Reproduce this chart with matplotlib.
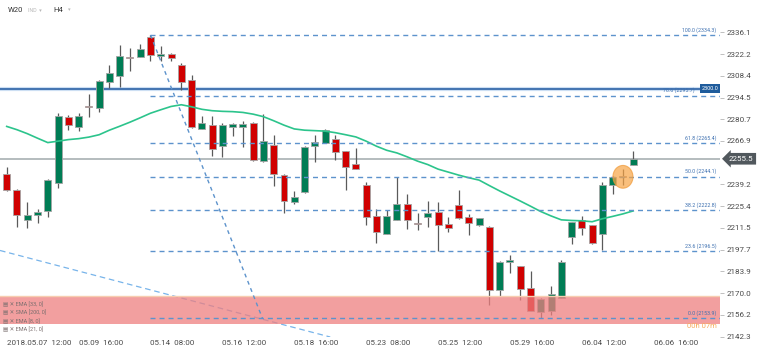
import matplotlib
matplotlib.use("Agg")
from matplotlib import pyplot as plt
from matplotlib.patches import Ellipse
from matplotlib.transforms import blended_transform_factory

plt.rcParams['font.family'] = ['Roboto', 'DejaVu Sans']

# ===== candle data (H4) =====
opens = [2246.1, 2235.3, 2216.8, 2220.0, 2222.1, 2239.9, 2281.8, 2275.9, 2289.3, 2287.8,
         2304.7, 2307.9, 2320.2, 2320.6, 2332.9, 2321.0, 2321.9, 2315.3, 2305.8, 2274.6,
         2277.2, 2263.8, 2275.7, 2275.7, 2278.3, 2253.9, 2264.0, 2245.4, 2227.8, 2234.4,
         2263.8, 2265.6, 2268.3, 2260.2, 2252.2, 2239.1, 2218.9, 2207.8, 2216.8, 2227.0,
         2214.9, 2218.5, 2221.9, 2214.1, 2225.9, 2218.1, 2213.2, 2212.2, 2171.7, 2189.5,
         2187.0, 2173.2, 2158.0, 2158.6, 2167.1, 2205.6, 2216.2, 2213.2, 2207.8, 2238.6,
         2243.9, 2251.8]
highs = [2250.1, 2236.5, 2227.8, 2223.2, 2242.9, 2284.8, 2283.1, 2284.6, 2296.7, 2305.8,
         2314.9, 2328.0, 2325.9, 2328.5, 2334.3, 2327.6, 2322.7, 2316.4, 2309.0, 2282.9,
         2282.9, 2278.0, 2278.2, 2279.7, 2279.0, 2284.0, 2270.8, 2245.8, 2234.8, 2263.4,
         2270.8, 2274.3, 2270.4, 2260.5, 2262.4, 2240.8, 2223.8, 2222.6, 2243.7, 2233.2,
         2220.8, 2228.9, 2227.8, 2218.5, 2235.9, 2220.6, 2217.8, 2213.0, 2190.3, 2194.2,
         2187.3, 2183.8, 2166.8, 2174.5, 2191.0, 2215.4, 2218.9, 2213.5, 2240.8, 2244.3,
         2249.0, 2260.7]
lows = [2234.8, 2211.9, 2211.1, 2214.3, 2218.3, 2237.2, 2273.8, 2273.4, 2282.1, 2285.0,
        2300.5, 2301.5, 2311.5, 2320.4, 2318.0, 2317.8, 2317.8, 2299.4, 2275.0, 2274.3,
        2257.0, 2256.7, 2269.8, 2263.0, 2254.3, 2253.6, 2238.4, 2221.1, 2226.4, 2234.0,
        2253.2, 2265.3, 2255.0, 2235.9, 2248.7, 2213.2, 2202.0, 2207.5, 2216.5, 2210.9,
        2210.3, 2211.9, 2196.7, 2209.0, 2217.2, 2206.9, 2212.9, 2162.2, 2168.1, 2183.0,
        2165.4, 2158.3, 2153.9, 2155.8, 2166.8, 2201.0, 2206.7, 2201.3, 2197.1, 2233.2,
        2239.1, 2251.6]
closes = [2235.9, 2219.6, 2220.0, 2221.3, 2242.2, 2282.9, 2277.2, 2282.9, 2288.6, 2305.1,
          2310.0, 2321.0, 2319.6, 2325.3, 2321.7, 2322.1, 2319.8, 2304.7, 2275.5, 2278.3,
          2261.9, 2277.2, 2277.8, 2277.8, 2254.5, 2267.0, 2245.9, 2228.9, 2231.3, 2263.0,
          2266.2, 2274.0, 2259.8, 2250.1, 2249.0, 2218.5, 2208.8, 2218.9, 2227.0, 2216.8,
          2213.8, 2221.1, 2213.5, 2211.6, 2217.5, 2214.5, 2217.5, 2171.7, 2190.0, 2191.0,
          2172.8, 2158.6, 2166.5, 2169.2, 2190.0, 2215.1, 2211.6, 2201.6, 2239.1, 2244.0,
          2243.6, 2255.5]

# EMA (21) read at each candle
ema21 = [2276.1, 2274.0, 2271.5, 2268.6, 2265.8, 2266.7, 2267.7, 2268.3, 2269.3, 2270.8,
         2273.7, 2276.2, 2278.8, 2281.6, 2284.5, 2286.7, 2288.8, 2289.9, 2288.6, 2287.0,
         2286.1, 2285.7, 2285.5, 2285.0, 2283.9, 2282.3, 2279.7, 2276.9, 2274.5, 2273.7,
         2273.4, 2273.1, 2272.1, 2270.8, 2269.4, 2266.7, 2263.5, 2260.9, 2259.2, 2256.7,
         2254.0, 2251.8, 2248.9, 2247.0, 2245.1, 2243.4, 2241.9, 2238.4, 2235.0, 2231.8,
         2228.6, 2225.3, 2221.9, 2219.1, 2216.6, 2216.2, 2216.0, 2215.4, 2217.3, 2218.8,
         2220.4, 2222.3]

# fibonacci retracement
fib_pct = ['100.0', '78.6', '61.8', '50.0', '38.2', '23.6', '0.0']
fib_price = [2334.3, 2295.7, 2265.4, 2244.1, 2222.8, 2196.5, 2153.9]

# 2253.0 sits under the last-price marker, so it is left out
price_ticks = [2336.1, 2322.2, 2308.4, 2294.5, 2280.7, 2266.9, 2239.2,
               2225.4, 2211.5, 2197.7, 2183.9, 2170.0, 2156.2, 2142.3]
date_labels = ['2018.05.07  12:00', '05.09  16:00', '05.14  08:00', '05.16  12:00',
               '05.18  16:00', '05.23  08:00', '05.25  12:00', '05.29  16:00',
               '06.04  12:00', '06.06  16:00']
date_pos = [0, 7, 14, 21, 28, 35, 42, 49, 56, 63]

level_line = 2300.0
last_price = 2255.5
zone = (2150.1, 2168.1)
indicators = ['EMA [33, 0]', 'SMA [200, 0]', 'EMA [8, 0]', 'EMA [21, 0]']

W, H = 760, 351
fig = plt.figure(figsize=(W / 100, H / 100), dpi=100)
ax = fig.add_axes([0, 14 / H, 720 / W, 337 / H])
ax.set_xlim(-0.652, 69.45)
ax.set_ylim(2142.0, 2356.6)
for s in ax.spines.values():
    s.set_visible(False)

red, green = '#d00000', '#007d55'
n = len(opens)
idx = list(range(n))

# candles
for i in idx:
    o, h, l, c = opens[i], highs[i], lows[i], closes[i]
    col = green if c >= o else red
    ax.vlines(i, l, h, color='#5a5a5a', lw=0.9, zorder=3)
    body = max(abs(c - o), 0.7)
    ax.bar(i, body, bottom=min(o, c), width=0.68, color=col,
           edgecolor='#a5a5a5', linewidth=0.6, zorder=4)

# moving average
ax.plot(idx, ema21, color='#2cc48c', lw=1.2, zorder=5)

# horizontal price lines
ax.axhline(last_price, color='#a8b0b3', lw=1.2, zorder=2)
ax.axhline(level_line, color='#9cc0e8', lw=3, alpha=0.5, zorder=2)
ax.axhline(level_line, color='#2b62a6', lw=1.2, zorder=2)

# fib retracement
fib_col = '#5d93cc'
for pct, pr in zip(fib_pct, fib_price):
    ax.plot([14, 69.45], [pr, pr], color=fib_col, lw=1, ls=(0, (3.6, 2.9)), zorder=7)
    # the 78.6 label would run under the 2300.0 box, so it ends left of it
    xr = 67.0 if pct == '78.6' else 69.1
    ax.text(xr, pr + 1.6, f'{pct} ({pr:.1f})', color='#3c6fb0', fontsize=3.8,
            ha='right', va='bottom', zorder=8)
ax.plot([14, 24.9], [fib_price[0], fib_price[-1]], color=fib_col, lw=1,
        ls=(0, (2.8, 2.8)), zorder=7)

# long trend line
ax.plot([-0.652, 31.5], [2197.1, 2142.0], color='#78b4ea', lw=0.9,
        ls=(0, (4.5, 3)), zorder=2)

# support zone
ax.axhspan(zone[0], zone[1], color='#ee7f7f', alpha=0.75, lw=0, zorder=6)
ax.axhline(zone[1], color='#f7cdb0', lw=1, zorder=6)

# highlight of the last doji
ax.add_patch(Ellipse((60, 2244.0), 1.95, 14.5, fc='#f7a444', ec='#f09a38',
                     alpha=0.7, lw=0.8, zorder=9))

ax.text(69.1, 2148.8, '00h 07m', color='#f7ab5c', fontsize=5.5, ha='right',
        va='center', zorder=9)

# right price scale
ax.yaxis.tick_right()
ax.set_yticks(price_ticks, [f'{p:.1f}' for p in price_ticks])
ax.tick_params(axis='y', length=3, width=0.6, color='#b5b5b5', pad=2,
               labelsize=5.8, labelcolor='#4a4a4a')
ax.set_xticks(date_pos, date_labels, ha='left')
ax.tick_params(axis='x', length=0, pad=2, labelsize=5.8, labelcolor='#4a4a4a')

tr = blended_transform_factory(ax.transAxes, ax.transData)
ax.text(69.3, level_line, f'{level_line:.1f}', color='white', fontsize=4,
        ha='right', va='center', zorder=11,
        bbox=dict(boxstyle='square,pad=0.35', fc='#1f5c9c', ec='none'))
ax.text(1.012, last_price, f'{last_price:.1f}', transform=tr, color='white',
        fontsize=5.8, ha='left', va='center', zorder=12, clip_on=False,
        bbox=dict(boxstyle='larrow,pad=0.35', fc='#51585d', ec='none'))

# indicator list inside the zone
for k, name in enumerate(indicators):
    fig.text(3 / W, 1 - (304.5 + 8.2 * k) / H, '▤ ✕ ' + name, color='#7a6e6e',
             fontsize=4, ha='left', va='center')

# header
fig.text(8 / W, 1 - 10 / H, 'W20', color='#333333', fontsize=5.5, va='center')
fig.text(28 / W, 1 - 10 / H, 'IND  ▾', color='#b8b8b8', fontsize=3.8, va='center')
fig.text(53 / W, 1 - 10 / H, 'H4', color='#333333', fontsize=5.5, va='center')
fig.text(68 / W, 1 - 10 / H, '▾', color='#b8b8b8', fontsize=3.8, va='center')

fig.savefig('out.png', dpi=100)
